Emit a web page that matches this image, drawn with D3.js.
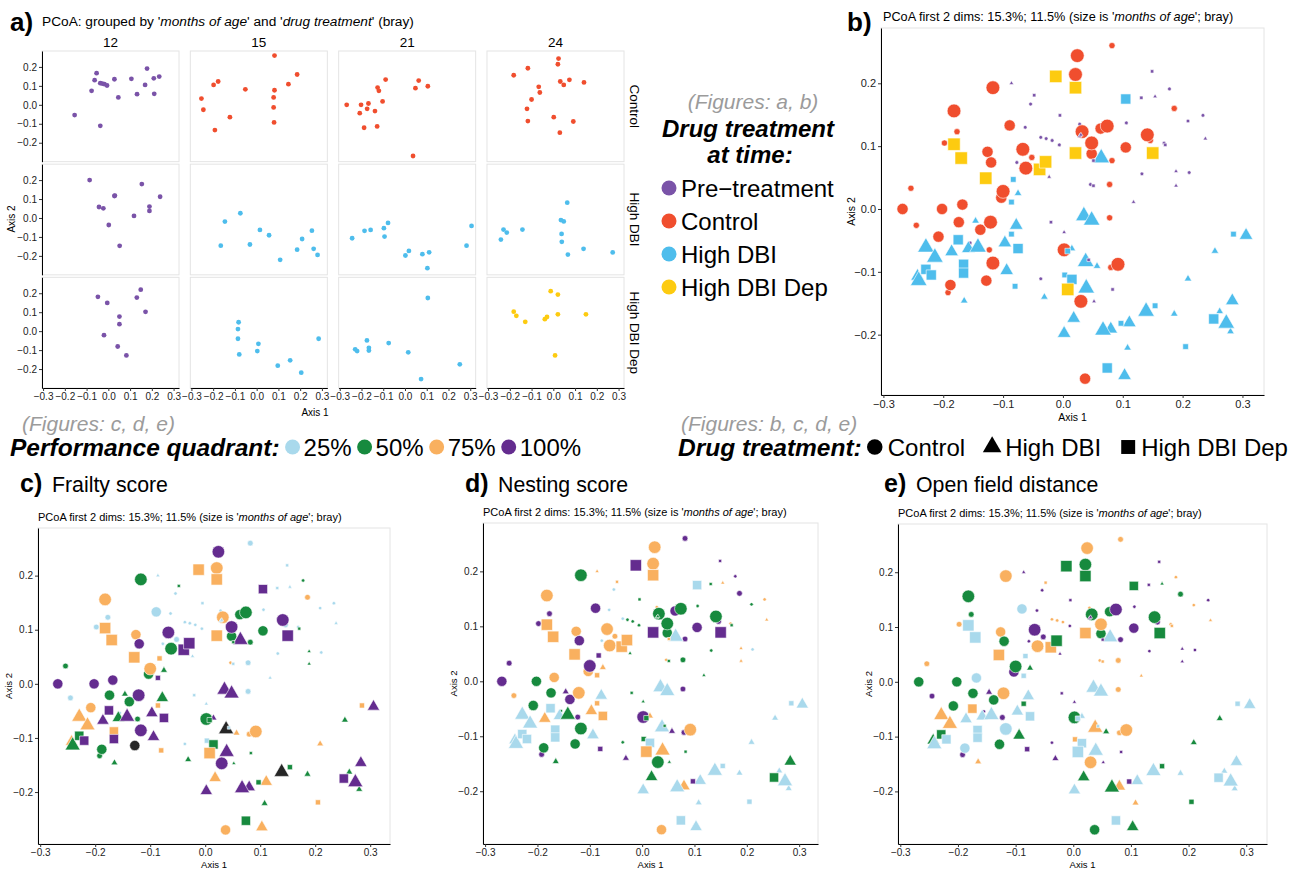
<!DOCTYPE html>
<html>
<head>
<meta charset="utf-8">
<script src="https://cdn.jsdelivr.net/npm/d3@7"></script>
<style>
  body { margin: 0; background: #fff; }
  svg { font-family: "Liberation Sans", Arial, Helvetica, sans-serif; }
</style>
</head>
<body>
<svg id="fig" width="1293" height="871"></svg>
<script>
// ---- data -------------------------------------------------------------
const ageGroups = [12, 15, 21, 24];
const drugGroups = ["Control", "High DBI", "High DBI Dep"];
const timeLabels = ["Pre\u2212treatment", "Control", "High DBI", "High DBI Dep"];
const quadrantLabels = ["25%", "50%", "75%", "100%"];
const xTicks = [-0.3, -0.2, -0.1, 0.0, 0.1, 0.2, 0.3];
const yTicks = [-0.2, -0.1, 0.0, 0.1, 0.2];

// samples per facet, row-major (drug x age)
const facetCounts = [18, 14, 16, 16, 12, 12, 13, 12, 10, 10, 10, 10];

const axis1 = [
  // Control 12, 15, 21, 24
  -0.155,-0.077,-0.063,-0.054,-0.037,-0.028,-0.018,-0.006,-0.037,0.028,0.046,0.106,0.132,0.169,0.178,0.209,0.211,0.234,
  0.082,0.186,-0.177,-0.198,0.146,-0.052,0.082,-0.254,0.078,-0.245,0.078,-0.123,0.080,-0.192,
  -0.089,0.063,-0.126,0.048,0.105,-0.120,-0.103,-0.268,-0.202,-0.168,-0.174,-0.208,-0.138,-0.188,-0.128,0.037,
  0.024,0.021,-0.117,-0.182,0.032,0.048,0.074,0.141,-0.067,-0.062,-0.100,-0.121,-0.117,0.002,0.092,0.030,
  // High DBI
  -0.086,0.154,-0.043,-0.023,0.028,0.030,0.238,0.189,0.189,0.118,0.002,0.052,
  -0.075,-0.146,-0.165,-0.031,0.015,0.057,0.254,0.209,0.186,0.262,0.280,0.108,
  0.306,-0.078,-0.097,-0.158,-0.186,-0.094,-0.243,0.283,0.018,0.002,0.080,0.111,0.103,
  0.064,0.035,0.048,-0.229,-0.214,-0.142,-0.241,0.038,0.039,0.139,0.273,0.067,
  // High DBI Dep
  -0.048,0.149,0.131,-0.005,0.171,0.051,0.051,-0.020,0.043,0.083,
  -0.083,-0.086,-0.086,0.008,0.003,-0.080,0.285,0.154,0.097,0.205,
  0.105,-0.175,-0.229,-0.220,-0.166,-0.166,-0.075,0.015,0.252,0.074,
  -0.012,0.021,-0.182,-0.170,-0.129,-0.039,-0.029,0.021,0.150,0.008
];
const axis2 = [
  -0.054,0.074,0.130,0.167,0.114,0.112,0.109,0.102,-0.111,0.135,0.039,0.137,0.056,0.105,0.191,0.140,0.058,0.149,
  0.260,0.160,0.123,0.105,0.109,0.082,0.077,0.033,0.039,-0.026,-0.014,-0.065,-0.093,-0.133,
  0.133,0.128,0.091,0.088,0.098,0.074,0.018,0.000,0.000,0.007,-0.021,-0.044,-0.033,-0.121,-0.114,-0.270,
  0.244,0.214,0.193,0.156,0.123,0.105,0.132,0.118,0.095,0.065,0.028,-0.021,-0.086,-0.065,-0.088,-0.147,
  0.200,0.179,0.058,0.051,0.116,0.118,0.112,0.060,0.037,0.011,-0.037,-0.147,
  0.025,-0.019,-0.146,-0.140,-0.063,-0.091,-0.067,-0.111,-0.167,-0.163,-0.195,-0.221,
  -0.042,-0.026,-0.054,-0.063,-0.068,-0.098,-0.107,-0.146,-0.174,-0.198,-0.191,-0.181,-0.265,
  0.081,-0.011,-0.018,-0.061,-0.077,-0.061,-0.114,-0.084,-0.126,-0.163,-0.182,-0.193,
  0.181,0.219,0.177,0.149,0.102,0.077,0.037,-0.021,-0.081,-0.128,
  0.047,0.011,-0.040,-0.067,-0.105,-0.123,-0.040,-0.154,-0.182,-0.219,
  0.175,-0.049,-0.096,-0.105,-0.088,-0.102,-0.063,-0.112,-0.175,-0.253,
  0.211,0.193,0.103,0.081,0.049,0.063,0.075,0.089,0.089,-0.128
];

// performance quadrant per sample: 1=25%, 2=50%, 3=75%, 4=100%, 0=NA
const frailtyQ = [
  1,1,1,1,1,1,1,1,1,1,3,1,1,1,2,1,1,1,
  1,3,1,1,1,1,2,2,1,1,1,2,3,2,
  1,2,3,2,2,4,2,4,4,4,2,3,2,2,0,3,
  4,3,2,3,3,4,2,4,4,2,3,4,4,2,3,4,
  1,1,1,1,1,1,1,2,2,1,1,2,
  2,2,2,2,4,3,2,3,2,2,2,2,
  4,2,4,2,4,4,3,4,3,4,4,3,3,
  4,4,4,3,3,4,2,0,4,0,4,4,
  2,1,1,1,2,2,1,1,1,2,
  3,4,3,2,1,3,3,2,2,3,
  4,4,2,4,3,4,4,2,4,2,
  3,3,3,3,3,4,4,3,4,3
];
const nestingQ = [
  2,1,1,1,1,2,2,2,2,3,3,2,2,3,4,2,1,3,
  4,4,4,4,4,3,4,4,2,3,4,4,4,4,
  4,4,3,2,4,4,3,4,2,3,2,2,4,2,2,3,
  3,3,2,3,2,2,2,2,3,3,4,3,2,4,3,2,
  3,3,1,2,2,2,3,3,3,2,2,2,
  3,4,2,4,3,4,1,1,1,1,1,1,
  1,1,3,1,3,1,1,2,2,1,3,1,1,
  1,1,1,1,1,2,1,1,3,1,1,1,
  3,4,2,2,2,3,2,2,2,2,
  4,3,3,2,2,4,1,1,4,1,
  1,1,1,1,1,1,3,1,2,1,
  4,3,3,3,3,3,3,4,4,3
];
const openFieldQ = [
  4,4,4,4,3,3,3,4,4,3,3,4,4,3,3,3,4,4,
  3,2,2,3,4,4,4,3,3,4,3,4,3,4,
  1,2,3,2,4,2,4,2,2,1,2,2,2,1,2,2,
  3,2,3,2,2,3,4,2,4,3,2,3,1,2,3,3,
  4,2,4,4,4,4,3,4,4,3,4,4,
  2,4,3,4,1,2,2,2,1,1,1,3,
  1,1,1,1,1,2,2,1,2,1,3,1,2,
  1,1,1,3,3,1,1,3,1,1,1,2,
  3,4,4,4,3,4,3,4,1,4,
  1,1,2,1,3,4,1,2,4,2,
  2,3,2,1,1,1,1,1,1,1,
  2,2,1,1,3,3,2,3,2,1
];

// ---- build samples ----------------------------------------------------
const samples = axis1.map((v, i) => ({ x: v, y: axis2[i],
  frailty: frailtyQ[i], nesting: nestingQ[i], field: openFieldQ[i] }));
let k = 0;
drugGroups.forEach((drug, di) => ageGroups.forEach((age, ai) => {
  for (let j = 0; j < facetCounts[di * 4 + ai]; j++) {
    samples[k].drug = drug; samples[k].age = age; k++;
  }
}));
function timeGroup(s) {
  if (s.age === 12) return timeLabels[0];
  if (s.drug === "High DBI Dep" && s.age < 24) return "High DBI";
  return s.drug;
}

const FONT = '"Liberation Sans", Arial, Helvetica, sans-serif';
const timeColor = d3.scaleOrdinal().domain(timeLabels)
  .range(["#7a53a8", "#f04e2e", "#4ebdec", "#fdcb10"]);
const quadColor = d3.scaleOrdinal().domain([0, 1, 2, 3, 4])
  .range(["#262626", "#a9d9ec", "#178a3e", "#f9b05f", "#642c8f"]);
const shapeType = { "Control": d3.symbolCircle, "High DBI": d3.symbolTriangle, "High DBI Dep": d3.symbolSquare };
const shapeArea = { "Control": Math.PI, "High DBI": 2.5, "High DBI Dep": 3.24 };
const fmt = d3.format(".1f");

const svg = d3.select("#fig");
svg.append("rect").attr("width", 1293).attr("height", 871).attr("fill", "#fff");

function styleAxis(g, fs) {
  g.select(".domain").attr("stroke", "#000").attr("stroke-width", 1);
  g.selectAll(".tick line").attr("stroke", "#333");
  g.selectAll(".tick text").attr("fill", "#222").attr("font-size", fs).attr("font-family", FONT);
}

// ---- panel a: facets -------------------------------------------------
const colBand = d3.scaleBand().domain(ageGroups).range([42, 624]).paddingInner(0.0762);
const rowBand = d3.scaleBand().domain(drugGroups).range([51, 388]).paddingInner(0.022);
const fx = d3.scaleLinear().domain([-0.305, 0.325]).range([0, colBand.bandwidth()]);
const fy = d3.scaleLinear().domain([-0.300, 0.284]).range([rowBand.bandwidth(), 0]);

svg.append("text").attr("x", 10).attr("y", 31).attr("font-size", 26).attr("font-weight", "bold").text("a)");
const ta = svg.append("text").attr("x", 42).attr("y", 26).attr("font-size", 13.7);
ta.append("tspan").text("PCoA: grouped by '");
ta.append("tspan").attr("font-style", "italic").text("months of age");
ta.append("tspan").text("' and '");
ta.append("tspan").attr("font-style", "italic").text("drug treatment");
ta.append("tspan").text("' (bray)");

drugGroups.forEach((drug, ri) => {
  ageGroups.forEach((age, ci) => {
    const g = svg.append("g")
      .attr("transform", `translate(${colBand(age)},${rowBand(drug)})`);
    g.append("rect").attr("width", colBand.bandwidth()).attr("height", rowBand.bandwidth())
      .attr("fill", "#fff").attr("stroke", "#e4e4e4");
    g.selectAll("circle")
      .data(samples.filter(s => s.drug === drug && s.age === age))
      .join("circle")
      .attr("cx", d => fx(d.x)).attr("cy", d => fy(d.y)).attr("r", 2.4)
      .attr("fill", d => timeColor(timeGroup(d)));
    if (ci === 0) {
      g.append("g").call(d3.axisLeft(fy).tickValues(yTicks).tickFormat(fmt).tickSize(3).tickPadding(2).tickSizeOuter(0))
        .call(a => styleAxis(a, 10));
    }
    if (ri === drugGroups.length - 1) {
      g.append("g").attr("transform", `translate(0,${rowBand.bandwidth()})`)
        .call(d3.axisBottom(fx).tickValues(xTicks).tickFormat(fmt).tickSize(3).tickPadding(2).tickSizeOuter(0))
        .call(a => styleAxis(a, 10));
    }
    if (ri === 0) {
      svg.append("text").attr("x", colBand(age) + colBand.bandwidth() / 2).attr("y", 47)
        .attr("text-anchor", "middle").attr("font-size", 13.5).text(age);
    }
    if (ci === ageGroups.length - 1) {
      svg.append("text")
        .attr("transform", `translate(634,${rowBand(drug) + rowBand.bandwidth() / 2}) rotate(90)`)
        .attr("text-anchor", "middle").attr("dominant-baseline", "central")
        .attr("font-size", 13.5).text(drug);
    }
  });
});
svg.append("text").attr("x", 315).attr("y", 416).attr("text-anchor", "middle").attr("font-size", 10).text("Axis 1");
svg.append("text").attr("transform", "translate(15,219) rotate(-90)").attr("text-anchor", "middle")
  .attr("font-size", 10).text("Axis 2");

// ---- PCoA scatter panels (b, c, d, e) ---------------------------------
function pcoaPanel(box, colorFn, rMax, subtitle, tickSize, labelSize, labelGap) {
  const x = d3.scaleLinear().domain([-0.304, 0.336]).range([box.x0, box.x1]);
  const y = d3.scaleLinear().domain([-0.296, 0.288]).range([box.y1, box.y0]);
  const rScale = d3.scaleLinear().domain([12, 24]).range([rMax * 0.27, rMax]);
  const t = svg.append("text").attr("x", subtitle.x).attr("y", subtitle.y).attr("font-size", subtitle.size);
  t.append("tspan").text("PCoA first 2 dims: 15.3%; 11.5% (size is '");
  t.append("tspan").attr("font-style", "italic").text("months of age");
  t.append("tspan").text("'; bray)");

  svg.append("rect").attr("x", box.x0).attr("y", box.y0)
    .attr("width", box.x1 - box.x0).attr("height", box.y1 - box.y0)
    .attr("fill", "#fff").attr("stroke", "#e4e4e4");
  svg.append("g").selectAll("path").data(samples).join("path")
    .attr("transform", d => `translate(${x(d.x)},${y(d.y)})`)
    .attr("d", d => d3.symbol(shapeType[d.drug], shapeArea[d.drug] * rScale(d.age) ** 2)())
    .attr("fill", colorFn).attr("stroke", "#fff").attr("stroke-width", 0.6);
  svg.append("g").attr("transform", `translate(${box.x0},0)`)
    .call(d3.axisLeft(y).tickValues(yTicks).tickFormat(fmt).tickSize(3).tickPadding(2).tickSizeOuter(0))
    .call(a => styleAxis(a, tickSize));
  svg.append("g").attr("transform", `translate(0,${box.y1})`)
    .call(d3.axisBottom(x).tickValues(xTicks).tickFormat(fmt).tickSize(3).tickPadding(2).tickSizeOuter(0))
    .call(a => styleAxis(a, tickSize));
  svg.append("text").attr("x", (box.x0 + box.x1) / 2).attr("y", box.y1 + labelGap)
    .attr("text-anchor", "middle").attr("font-size", labelSize).text("Axis 1");
  svg.append("text").attr("transform", `translate(${box.x0 - 26},${(box.y0 + box.y1) / 2}) rotate(-90)`)
    .attr("text-anchor", "middle").attr("font-size", labelSize).text("Axis 2");
}

// b
svg.append("text").attr("x", 847).attr("y", 31).attr("font-size", 26).attr("font-weight", "bold").text("b)");
pcoaPanel({ x0: 881, x1: 1264, y0: 28, y1: 395 }, d => timeColor(timeGroup(d)), 6.9,
  { x: 883, y: 21, size: 12.7 }, 11, 10.5, 26);

// c, d, e
const lower = [
  { tag: "c)", name: "Frailty score", key: "frailty", tx: 20, nx: 52, box: { x0: 38, x1: 390, y0: 528, y1: 844 }, sx: 38 },
  { tag: "d)", name: "Nesting score", key: "nesting", tx: 465, nx: 498, box: { x0: 483, x1: 818, y0: 523, y1: 844 }, sx: 483 },
  { tag: "e)", name: "Open field distance", key: "field", tx: 884, nx: 916, box: { x0: 898, x1: 1267, y0: 524, y1: 844 }, sx: 898 }
];
lower.forEach(p => {
  svg.append("text").attr("x", p.tx).attr("y", 492).attr("font-size", 25).attr("font-weight", "bold").text(p.tag);
  svg.append("text").attr("x", p.nx).attr("y", 492).attr("font-size", 21.3).text(p.name);
  pcoaPanel(p.box, d => quadColor(d[p.key]), 6.3, { x: p.sx, y: p.box.y0 - 7, size: 11 }, 10, 9.5, 24);
});

// ---- legends ---------------------------------------------------------
const gray = "#9b9b9b";
svg.append("text").attr("x", 753).attr("y", 109).attr("text-anchor", "middle").attr("font-size", 21)
  .attr("font-style", "italic").attr("fill", gray).text("(Figures: a, b)");
svg.append("text").attr("x", 748).attr("y", 137).attr("text-anchor", "middle").attr("font-size", 24)
  .attr("font-style", "italic").attr("font-weight", "bold").text("Drug treatment");
svg.append("text").attr("x", 750).attr("y", 163).attr("text-anchor", "middle").attr("font-size", 24)
  .attr("font-style", "italic").attr("font-weight", "bold").text("at time:");
const lg = svg.append("g").selectAll("g").data(timeLabels).join("g")
  .attr("transform", (d, i) => `translate(669,${188 + i * 33})`);
lg.append("circle").attr("r", 7.5).attr("fill", d => timeColor(d));
lg.append("text").attr("x", 12).attr("y", 8.5).attr("font-size", 24).text(d => d);

svg.append("text").attr("x", 22).attr("y", 431).attr("font-size", 21).attr("font-style", "italic")
  .attr("fill", gray).text("(Figures: c, d, e)");
svg.append("text").attr("x", 681).attr("y", 431).attr("font-size", 21).attr("font-style", "italic")
  .attr("fill", gray).text("(Figures: b, c, d, e)");

function flowLegend(x0, title, items, textGap, itemGap) {
  const head = svg.append("text").attr("x", x0).attr("y", 456).attr("font-size", 24.5)
    .attr("font-style", "italic").attr("font-weight", "bold").text(title);
  let cx = x0 + head.node().getComputedTextLength() + 13;
  items.forEach(it => {
    svg.append("path").attr("transform", `translate(${cx},447)`)
      .attr("d", d3.symbol(it.shape, it.area)()).attr("fill", it.color);
    const t = svg.append("text").attr("x", cx + textGap).attr("y", 456).attr("font-size", 24).text(it.label);
    cx += textGap + t.node().getComputedTextLength() + itemGap;
  });
}
flowLegend(10, "Performance quadrant:", quadrantLabels.map((q, i) => ({
  label: q, color: quadColor(i + 1), shape: d3.symbolCircle, area: Math.PI * 56 })), 11, 13);
flowLegend(678, "Drug treatment:", drugGroups.map(dg => ({
  label: dg, color: "#000", shape: shapeType[dg], area: shapeArea[dg] * 60 })), 13, 27);
</script>
</body>
</html>
